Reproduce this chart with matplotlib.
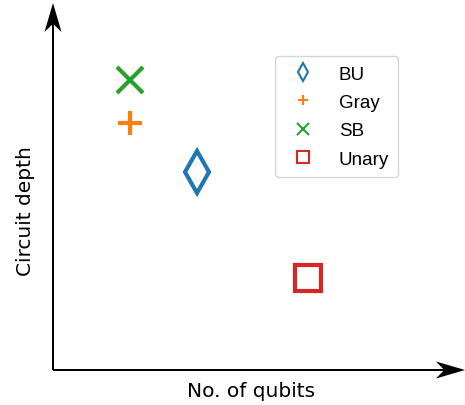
import numpy as np
import matplotlib
matplotlib.use('Agg')
import matplotlib.pyplot as plt

# schematic positions (arbitrary units, axes run 0..10)
labels = ['BU', 'Gray', 'SB', 'Unary']
qubits = [3.50, 1.87, 1.87, 6.19]
depth = [5.40, 6.72, 7.90, 2.52]
markers = ['d', '+', 'x', 's']
colors = ['#1f77b4', '#ff7f0e', '#2ca02c', '#d62728']
sizes = [21, 17, 19, 19]

fig = plt.figure(figsize=(4.65, 4.06), dpi=100)
# axes box in pixels: left 53, right 465, bottom 371, top 4
ax = fig.add_axes([53/465, (406-371)/406, (465-53)/465, (371-4)/406])
ax.set_xlim(0, 10)
ax.set_ylim(0, 10)

for q, d, m, c, s, lab in zip(qubits, depth, markers, colors, sizes, labels):
    ax.plot(q, d, linestyle='none', marker=m, markersize=s, markerfacecolor='none',
            markeredgecolor=c, markeredgewidth=3, label=lab, clip_on=False)

# axis arrows instead of spines
for sp in ax.spines.values():
    sp.set_visible(False)
ax.set_xticks([])
ax.set_yticks([])

px_x = 412/10   # pixels per x unit
px_y = 367/10   # pixels per y unit
ax.arrow(0, 0, 0, 10, width=2/px_x, head_width=17/px_x, head_length=29/px_y,
         overhang=0.25, length_includes_head=True, color='black', lw=0, clip_on=False)
ax.arrow(0, 0, 10, 0, width=2/px_y, head_width=17/px_y, head_length=29/px_x,
         overhang=0.25, length_includes_head=True, color='black', lw=0, clip_on=False)

ax.set_xlabel('No. of qubits', fontsize=14.5)
ax.set_ylabel('Circuit depth', fontsize=14.5)
ax.xaxis.set_label_coords(0.48, -0.030)
ax.yaxis.set_label_coords(-0.044, 0.436)

leg = ax.legend(loc='upper left', bbox_to_anchor=((275-53)/412, (371-57)/367),
                borderaxespad=0, markerscale=0.42,
                prop={'family': 'Liberation Sans', 'size': 13.5},
                labelspacing=0.6, handletextpad=0.9, borderpad=0.5, fancybox=True)
leg.get_frame().set_edgecolor('#cccccc')
for h in leg.legend_handles:
    h.set_markeredgewidth(1.5)

plt.savefig('out.png', dpi=100)
